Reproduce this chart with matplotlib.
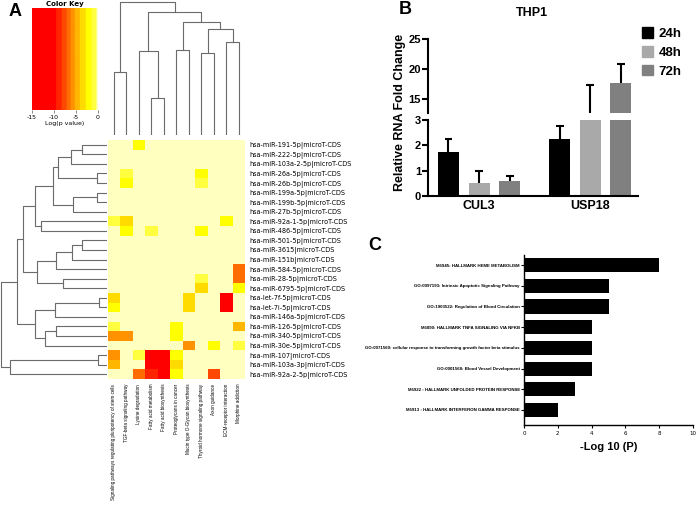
import numpy as np
import matplotlib
matplotlib.use("Agg")
import matplotlib.pyplot as plt
from matplotlib.colors import ListedColormap, BoundaryNorm
from matplotlib.patches import Patch

plt.rcParams["axes.unicode_minus"] = False

W, H = 696, 507
ARIAL = ["Liberation Sans", "DejaVu Sans"]

# ---------------- panel A: miRNA x KEGG pathway heatmap
mirnas = [
    "hsa-miR-191-5p|microT-CDS", "hsa-miR-222-5p|microT-CDS",
    "hsa-miR-103a-2-5p|microT-CDS", "hsa-miR-26a-5p|microT-CDS",
    "hsa-miR-26b-5p|microT-CDS", "hsa-miR-199a-5p|microT-CDS",
    "hsa-miR-199b-5p|microT-CDS", "hsa-miR-27b-5p|microT-CDS",
    "hsa-miR-92a-1-5p|microT-CDS", "hsa-miR-486-5p|microT-CDS",
    "hsa-miR-501-5p|microT-CDS", "hsa-miR-3615|microT-CDS",
    "hsa-miR-151b|microT-CDS", "hsa-miR-584-5p|microT-CDS",
    "hsa-miR-28-5p|microT-CDS", "hsa-miR-6795-5p|microT-CDS",
    "hsa-let-7f-5p|microT-CDS", "hsa-let-7i-5p|microT-CDS",
    "hsa-miR-146a-5p|microT-CDS", "hsa-miR-126-5p|microT-CDS",
    "hsa-miR-340-5p|microT-CDS", "hsa-miR-30e-5p|microT-CDS",
    "hsa-miR-107|microT-CDS", "hsa-miR-103a-3p|microT-CDS",
    "hsa-miR-92a-2-5p|microT-CDS",
]
pathways = [
    "Signaling pathways regulating pluripotency of stem cells",
    "TGF-beta signaling pathway", "Lysine degradation",
    "Fatty acid metabolism", "Fatty acid biosynthesis",
    "Proteoglycans in cancer", "Mucin type O-Glycan biosynthesis",
    "Thyroid hormone signaling pathway", "Axon guidance",
    "ECM-receptor interaction", "Morphine addiction",
]
# log(p value), one row per miRNA, one column per pathway
log_p = [
    [0, 0, -2.2, 0, 0, 0, 0, 0, 0, 0, 0],
    [0, 0, 0, 0, 0, 0, 0, 0, 0, 0, 0],
    [0, 0, 0, 0, 0, 0, 0, 0, 0, 0, 0],
    [0, -1.0, 0, 0, 0, 0, 0, -2.2, 0, 0, 0],
    [0, -2.2, 0, 0, 0, 0, 0, -1.0, 0, 0, 0],
    [0, 0, 0, 0, 0, 0, 0, 0, 0, 0, 0],
    [0, 0, 0, 0, 0, 0, 0, 0, 0, 0, 0],
    [0, 0, 0, 0, 0, 0, 0, 0, 0, 0, 0],
    [-1.0, -3.4, 0, 0, 0, 0, 0, 0, 0, -2.2, 0],
    [0, -2.2, 0, -1.0, 0, 0, 0, -2.2, 0, 0, 0],
    [0, 0, 0, 0, 0, 0, 0, 0, 0, 0, 0],
    [0, 0, 0, 0, 0, 0, 0, 0, 0, 0, 0],
    [0, 0, 0, 0, 0, 0, 0, 0, 0, 0, 0],
    [0, 0, 0, 0, 0, 0, 0, 0, 0, 0, -6.7],
    [0, 0, 0, 0, 0, 0, 0, -1.0, 0, 0, -6.7],
    [0, 0, 0, 0, 0, 0, 0, -3.4, 0, 0, -2.2],
    [-3.4, 0, 0, 0, 0, 0, -3.4, 0, 0, -12, 0],
    [-2.2, 0, 0, 0, 0, 0, -3.4, 0, 0, -12, 0],
    [0, 0, 0, 0, 0, 0, 0, 0, 0, 0, 0],
    [-1.0, 0, 0, 0, 0, -2.2, 0, 0, 0, 0, -4.7],
    [-5.7, -5.7, 0, 0, 0, -2.2, 0, 0, 0, 0, 0],
    [0, 0, 0, 0, 0, 0, -5.7, 0, -2.2, 0, -1.0],
    [-5.7, 0, -1.0, -12, -12, -2.2, 0, 0, 0, 0, 0],
    [-4.7, 0, 0, -12, -12, -3.4, 0, 0, 0, 0, 0],
    [0, 0, -6.7, -9, -12, -2.2, 0, 0, -7.7, 0, 0],
]
key_bounds = [-15, -9.52, -8.25, -7.12, -6.22, -5.25, -4.12, -2.77, -1.5, -0.37, 0]
key_colors = ["#FF0000", "#FF2400", "#FF4900", "#FF6D00", "#FF9200",
              "#FFB600", "#FFDB00", "#FFFF00", "#FFFF40", "#FFFFBF"]

# dendrograms: (child a, child b, height); new node ids follow the leaves
row_tree = [
    (0, 1, 25), (25, 2, 36), (3, 4, 10), (26, 27, 49), (5, 6, 10),
    (29, 7, 34), (28, 30, 54), (8, 9, 66), (31, 32, 72), (10, 11, 25),
    (34, 12, 35), (35, 13, 51), (14, 15, 44), (36, 37, 70), (33, 38, 84),
    (16, 17, 8), (40, 18, 52), (19, 20, 51), (42, 21, 62), (41, 43, 72),
    (39, 44, 90), (22, 23, 9), (46, 24, 97), (45, 47, 106),
]
col_tree = [
    (0, 1, 63), (3, 4, 37), (2, 12, 84), (5, 6, 85), (7, 8, 82),
    (9, 10, 93), (15, 16, 106), (14, 17, 113), (13, 18, 123), (11, 19, 133),
]

# ---------------- panel B: qPCR
genes = ["CUL3", "USP18"]
timepoints = ["24h", "48h", "72h"]
fc_24h = [1.75, 2.25]
fc_48h = [0.52, 7.5]
fc_72h = [0.6, 17.6]
err_24h = [0.5, 0.5]
err_48h = [0.47, 9.8]
err_72h = [0.2, 3.2]

# ---------------- panel C: enrichment
terms = [
    "M5945: HALLMARK HEME METABOLISM",
    "GO:0097193: Intrinsic Apoptotic Signaling Pathway",
    "GO:1903522: Regulation of Blood Circulation",
    "M5890: HALLMARK TNFA SIGNALING VIA NFKB",
    "GO:0071560: cellular response to transforming growth factor beta stimulus",
    "GO:0001568: Blood Vessel Development",
    "M5922 : HALLMARK UNFOLDED PROTEIN RESPONSE",
    "M5913 : HALLMARK INTERFERON GAMMA RESPONSE",
]
neg_log10_p = [8, 5, 5, 4, 4, 4, 3, 2]


fig = plt.figure(figsize=(W / 100, H / 100), dpi=100)


def px_ax(x0, y0, x1, y1):
    return fig.add_axes([x0 / W, 1 - y1 / H, (x1 - x0) / W, (y1 - y0) / H])


def draw_tree(ax, merges, n, sideways):
    pos = [i + 0.5 for i in range(n)]
    hgt = [0.0] * n
    for a, b, h in merges:
        p = [pos[a], pos[a], pos[b], pos[b]]
        q = [hgt[a], h, h, hgt[b]]
        if sideways:
            ax.plot(q, p, color="#6b6b6b", lw=0.8)
        else:
            ax.plot(p, q, color="#6b6b6b", lw=0.8)
        pos.append((pos[a] + pos[b]) / 2)
        hgt.append(h)


cmap = ListedColormap(key_colors)
cmap.set_over(key_colors[-1])
norm = BoundaryNorm(key_bounds, cmap.N)

# heatmap
ax_hm = px_ax(107.7, 140, 245, 379)
ax_hm.pcolormesh(np.array(log_p), cmap=cmap, norm=norm)
ax_hm.set_xlim(0, len(pathways))
ax_hm.set_ylim(len(mirnas), 0)
ax_hm.set_xticks(np.arange(len(pathways)) + 0.5)
ax_hm.set_xticklabels(pathways, rotation=90, fontsize=3.3, family=ARIAL)
ax_hm.set_yticks(np.arange(len(mirnas)) + 0.5)
ax_hm.set_yticklabels(mirnas, fontsize=4.7)
ax_hm.yaxis.tick_right()
ax_hm.tick_params(length=0, pad=3.5)
for s in ax_hm.spines.values():
    s.set_visible(False)

# row dendrogram
ax_rd = px_ax(0, 140, 107, 379)
draw_tree(ax_rd, row_tree, len(mirnas), True)
ax_rd.set_xlim(107, 0)
ax_rd.set_ylim(len(mirnas), 0)
ax_rd.axis("off")

# column dendrogram
ax_cd = px_ax(107.7, 0, 245, 135)
draw_tree(ax_cd, col_tree, len(pathways), False)
ax_cd.set_xlim(0, len(pathways))
ax_cd.set_ylim(0, 135)
ax_cd.axis("off")

# colour key
ax_key = px_ax(32, 8, 98, 110)
ax_key.imshow(np.linspace(-15, 0, 400)[None, :], aspect="auto", cmap=cmap,
              norm=norm, extent=[-15, 0, 0, 1])
ax_key.set_yticks([])
ax_key.set_xticks([-15, -10, -5, 0])
ax_key.tick_params(labelsize=4.5, length=2, width=0.5, pad=1.5, color="#555555")
ax_key.set_xlabel("Log(p value)", fontsize=4.5, labelpad=0.5)
ax_key.set_title("Color Key", fontsize=5, fontweight="bold", pad=1.5)
for s in ax_key.spines.values():
    s.set_visible(False)

# ---------------- panel B
ax_hi = px_ax(428, 39, 638, 113)
ax_lo = px_ax(428, 120, 638, 196)
xpos = np.arange(len(genes)) * 3.64
series = [(fc_24h, err_24h, "#000000"), (fc_48h, err_48h, "#A9A9A9"),
          (fc_72h, err_72h, "#808080")]
for ax in (ax_lo, ax_hi):
    for s, (vals, errs, col) in enumerate(series):
        x = xpos + s
        top = np.array(vals) + np.array(errs)
        ax.bar(x, vals, width=0.69, color=col)
        ax.vlines(x, vals, top, color="black", lw=1.5)
        ax.hlines(top, x - 0.13, x + 0.13, color="black", lw=1.5)
    ax.set_xlim(-0.67, 6.2)
    for side in ("top", "right"):
        ax.spines[side].set_visible(False)
    for side in ("left", "bottom"):
        ax.spines[side].set_linewidth(1.5)
    ax.tick_params(width=1.5, length=4, labelsize=8, pad=1)
ax_hi.spines["bottom"].set_visible(False)
ax_hi.set_xticks([])
ax_hi.set_ylim(12.67, 25)
ax_hi.set_yticks([15, 20, 25])
ax_lo.set_ylim(0, 3)
ax_lo.set_yticks([0, 1, 2, 3])
ax_lo.set_xticks(xpos + 1)
ax_lo.set_xticklabels(genes)
ax_lo.tick_params(axis="x", length=0, pad=3)
for ax in (ax_lo, ax_hi):
    for lab in ax.get_yticklabels():
        lab.set_fontweight("bold")
        lab.set_family(ARIAL)
for lab in ax_lo.get_xticklabels():
    lab.set_fontweight("bold")
    lab.set_family(ARIAL)
    lab.set_fontsize(9)

fig.text(400 / W, 1 - 112 / H, "Relative RNA Fold Change", rotation=90,
         ha="center", va="center", fontsize=9, fontweight="bold", family=ARIAL)
fig.text(532 / W, 1 - 13 / H, "THP1", ha="center", va="center", fontsize=9,
         fontweight="bold", family=ARIAL)
handles = [Patch(color=c) for _, _, c in series]
fig.legend(handles, timepoints, loc="upper left", bbox_to_anchor=(635 / W, 1 - 20 / H),
           frameon=False, handlelength=0.9, handleheight=0.9, handletextpad=0.4,
           labelspacing=0.45, borderpad=0, prop={"family": ARIAL, "weight": "bold", "size": 9.5})

# ---------------- panel C
ax_c = px_ax(524, 255, 693, 425)
yy = np.arange(len(terms))
ax_c.barh(yy, neg_log10_p, height=0.68, color="black")
ax_c.set_ylim(len(terms) - 0.27, -0.49)
ax_c.set_xlim(0, 10)
ax_c.set_xticks([0, 2, 4, 6, 8, 10])
ax_c.set_yticks(yy)
ax_c.set_yticklabels(terms, fontsize=3.2, fontweight="bold", family=ARIAL)
ax_c.tick_params(axis="y", length=2, width=0.8, pad=1)
ax_c.tick_params(axis="x", length=2, width=0.8, labelsize=4, pad=2)
for side in ("top", "right"):
    ax_c.spines[side].set_visible(False)
for side in ("left", "bottom"):
    ax_c.spines[side].set_linewidth(1)
ax_c.set_xlabel("-Log 10 (P)", fontsize=8, fontweight="bold", family=ARIAL, labelpad=5)

# panel letters
for letter, x, y in (("A", 15, 11), ("B", 405, 10), ("C", 375, 245)):
    fig.text(x / W, 1 - y / H, letter, ha="center", va="center", fontsize=13,
             fontweight="bold", family=ARIAL)

fig.savefig("out.png", dpi=100)
